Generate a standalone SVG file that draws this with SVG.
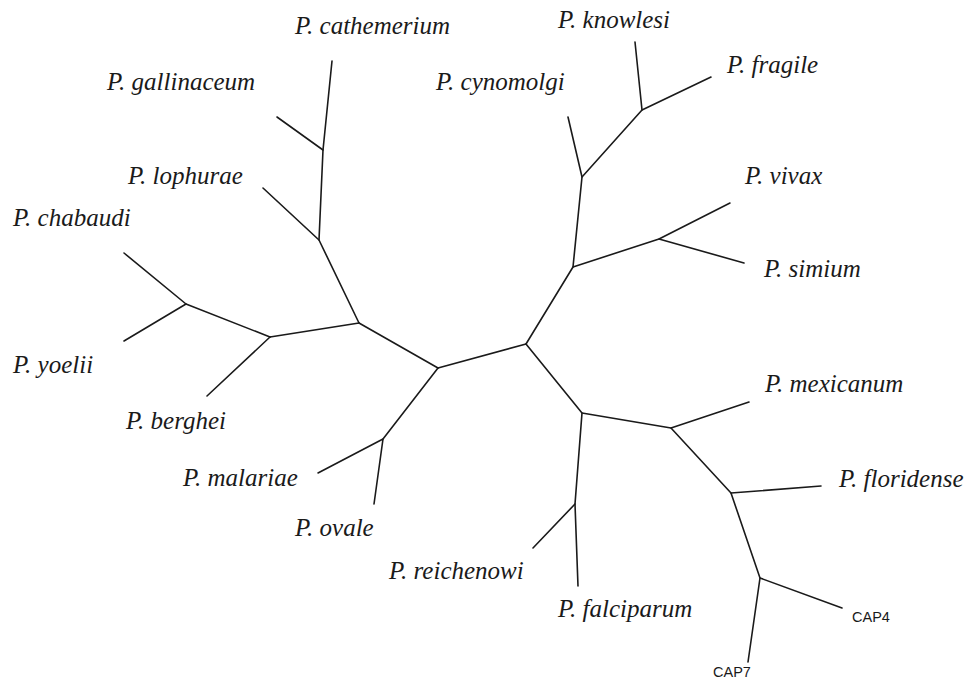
<svg xmlns="http://www.w3.org/2000/svg" width="972" height="684" viewBox="0 0 972 684">
<style>
.lbl{font-family:"Liberation Serif","Times New Roman",serif;font-style:italic;font-size:25px;fill:#1a1a1a}
.cap{font-family:"Liberation Sans",Arial,sans-serif;font-size:14.5px;fill:#1a1a1a}
.e{stroke:#1a1a1a;stroke-width:1.6;fill:none;stroke-linecap:round;stroke-linejoin:round}
</style>
<rect width="972" height="684" fill="#ffffff"/>
<g id="connectors" class="e">
<polyline class="e" points="263,188 319,240 359,323"/>
<polyline class="e" points="319,240 323,150 332,61"/>
<line class="e" x1="323" y1="150" x2="277" y2="117"/>
<line class="e" x1="359" y1="323" x2="270" y2="337"/>
<polyline class="e" points="270,337 186,304 124,253"/>
<line class="e" x1="186" y1="304" x2="124" y2="341"/>
<line class="e" x1="270" y1="337" x2="207" y2="396"/>
<line class="e" x1="359" y1="323" x2="438" y2="368"/>
<polyline class="e" points="438,368 383,439 318,473"/>
<line class="e" x1="383" y1="439" x2="374" y2="504"/>
<line class="e" x1="438" y1="368" x2="526" y2="344"/>
<polyline class="e" points="526,344 573,267 582,177 568,117"/>
<polyline class="e" points="582,177 642,110 635,42"/>
<line class="e" x1="642" y1="110" x2="711" y2="77"/>
<polyline class="e" points="573,267 659,239 730,203"/>
<line class="e" x1="659" y1="239" x2="744" y2="263"/>
<polyline class="e" points="526,344 582,413 575,504 533,548"/>
<line class="e" x1="575" y1="504" x2="578" y2="586"/>
<polyline class="e" points="582,413 671,428 749,402"/>
<polyline class="e" points="671,428 731,493 821,486"/>
<polyline class="e" points="731,493 760,578 842,608"/>
<line class="e" x1="760" y1="578" x2="748" y2="662"/>
</g>
<g id="n-cathemerium"><text class="lbl" x="295" y="34">P. cathemerium</text></g>
<g id="n-gallinaceum"><text class="lbl" x="107" y="90">P. gallinaceum</text></g>
<g id="n-lophurae"><text class="lbl" x="128" y="184">P. lophurae</text></g>
<g id="n-chabaudi"><text class="lbl" x="13" y="226">P. chabaudi</text></g>
<g id="n-yoelii"><text class="lbl" x="13" y="373">P. yoelii</text></g>
<g id="n-berghei"><text class="lbl" x="126" y="429">P. berghei</text></g>
<g id="n-malariae"><text class="lbl" x="183" y="486">P. malariae</text></g>
<g id="n-ovale"><text class="lbl" x="295" y="536">P. ovale</text></g>
<g id="n-reichenowi"><text class="lbl" x="389" y="579">P. reichenowi</text></g>
<g id="n-falciparum"><text class="lbl" x="558" y="617">P. falciparum</text></g>
<g id="n-mexicanum"><text class="lbl" x="765" y="392">P. mexicanum</text></g>
<g id="n-floridense"><text class="lbl" x="839" y="487">P. floridense</text></g>
<g id="n-knowlesi"><text class="lbl" x="558" y="28">P. knowlesi</text></g>
<g id="n-cynomolgi"><text class="lbl" x="436" y="90">P. cynomolgi</text></g>
<g id="n-fragile"><text class="lbl" x="727" y="73">P. fragile</text></g>
<g id="n-vivax"><text class="lbl" x="745" y="184">P. vivax</text></g>
<g id="n-simium"><text class="lbl" x="764" y="277">P. simium</text></g>
<g id="n-cap4"><text class="cap" x="852" y="622">CAP4</text></g>
<g id="n-cap7"><text class="cap" x="713" y="677">CAP7</text></g>
</svg>
